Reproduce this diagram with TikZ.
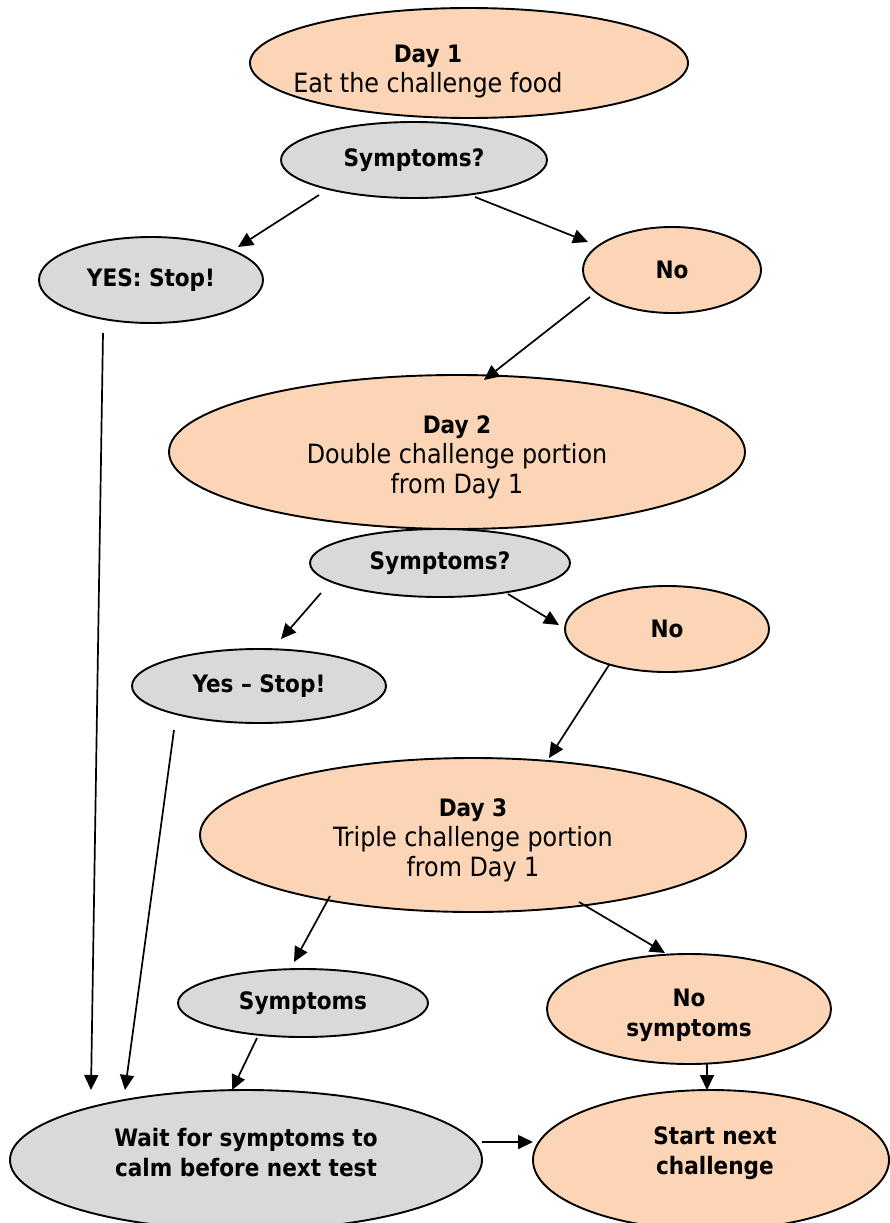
\documentclass[tikz,border=0pt]{standalone}
\usepackage{fontspec}
\setmainfont{DejaVu Sans Condensed}
\usetikzlibrary{shapes.geometric,arrows.meta,calc}
\definecolor{peach}{HTML}{FBD5B5}
\definecolor{lgray}{HTML}{D9D9D9}
\newcommand\rgtext[1]{{\fontsize{26.5}{30}\selectfont #1}}
\begin{document}
\begin{tikzpicture}[x=1pt,y=1pt,
  box/.style={ellipse, draw=black, line width=1.9pt, inner sep=0pt, align=center, font=\fontsize{24}{30}\selectfont},
  pbox/.style={box, fill=peach},
  gbox/.style={box, fill=lgray},
  txt/.style={inner sep=0pt, align=center, font=\fontsize{24}{30}\selectfont},
  arr/.style={-{Triangle[length=15pt,width=14pt]}, line width=1.7pt}]
\useasboundingbox (0,0) rectangle (890,-1223);

\node[pbox, minimum width=438pt, minimum height=110pt] (d1) at (469,-63) {};
\node[txt] (d1t) at (428,-72) {\textbf{Day 1}\\\rgtext{Eat the challenge food}};
\node[gbox, minimum width=266pt, minimum height=76pt] (s1) at (414,-160) {\textbf{Symptoms?}};
\node[gbox, minimum width=224pt, minimum height=86pt] (yes1) at (151,-280) {\textbf{YES: Stop!}};
\node[pbox, minimum width=178pt, minimum height=86pt] (no1) at (672,-270) {\textbf{No}};
\node[pbox, minimum width=576pt, minimum height=154pt] (d2) at (457,-452) {\rule{0pt}{28pt}\textbf{Day 2}\\\rgtext{Double challenge portion}\\\rgtext{from Day 1}};
\node[gbox, minimum width=260pt, minimum height=68pt] (s2) at (440,-563) {\textbf{Symptoms?}};
\node[pbox, minimum width=204pt, minimum height=86pt] (no2) at (667,-629) {\textbf{No}};
\node[gbox, minimum width=254pt, minimum height=74pt] (yes2) at (259,-686) {\textbf{Yes – Stop!}};
\node[pbox, minimum width=546pt, minimum height=154pt] (d3) at (473,-835) {\rule{0pt}{29pt}\textbf{Day 3}\\\rgtext{Triple challenge portion}\\\rgtext{from Day 1}};
\node[gbox, minimum width=250pt, minimum height=68pt] (s3) at (303,-1003) {\textbf{Symptoms}};
\node[pbox, minimum width=284pt, minimum height=110pt] (nos) at (689,-1009) {\rule{0pt}{30pt}\textbf{No}\\\textbf{symptoms}};
\node[gbox, minimum width=472pt, minimum height=140pt] (wait) at (246,-1160) {\textbf{Wait for symptoms to}\\\textbf{calm before next test}\rule[-16pt]{0pt}{16pt}};
\node[pbox, minimum width=356pt, minimum height=140pt] (start) at (711,-1160) {\hspace*{8pt}\textbf{Start next}\\\hspace*{8pt}\textbf{challenge}\rule[-18pt]{0pt}{18pt}};

\draw[arr] ($(s1)+(-95,-35)$) -- ($(yes1)+(87,33)$);
\draw[arr] ($(s1)+(61,-37)$) -- ($(no1)+(-84,28)$);
\draw[arr] ($(no1)+(-82,-27)$) -- ($(d2)+(27,72)$);
\draw[arr] ($(yes1)+(-48,-53)$) -- ($(wait)+(-155,70)$);
\draw[arr] ($(s2)+(-119,-30)$) -- ($(yes2)+(22,47)$);
\draw[arr] ($(s2)+(68,-31)$) -- ($(no2)+(-108,4)$);
\draw[arr] ($(no2)+(-58,-36)$) -- ($(d3)+(76,77)$);
\draw[arr] ($(yes2)+(-85,-44)$) -- ($(wait)+(-121,70)$);
\draw[arr] ($(d3)+(-143,-61)$) -- ($(s3)+(-9,41)$);
\draw[arr] ($(d3)+(106,-67)$) -- ($(nos)+(-24,56)$);
\draw[arr] ($(s3)+(-46,-35)$) -- ($(wait)+(-14,70)$);
\draw[arr] ($(nos)+(18,-55)$) -- ($(start)+(-4,70)$);
\draw[arr] ($(wait)+(236,18)$) -- ($(start)+(-178,18)$);
\end{tikzpicture}
\end{document}
